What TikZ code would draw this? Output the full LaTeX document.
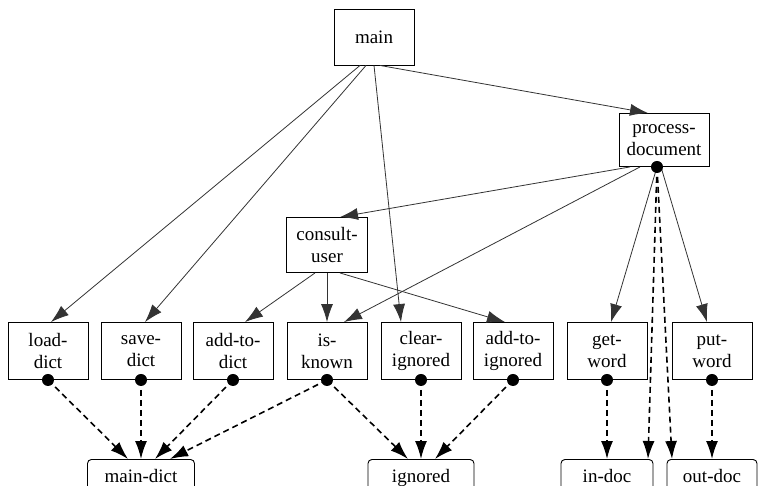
\documentclass[tikz,border=0pt]{standalone}
\usepackage{fontspec}
\setmainfont{Liberation Serif}
\usetikzlibrary{arrows.meta,calc}
\begin{document}
\begin{tikzpicture}[x=1pt,y=-1pt,
  box/.style={draw,line width=0.9pt,minimum width=80pt,minimum height=56pt,align=center,inner sep=1pt,font=\fontsize{19}{22}\selectfont},
  store/.style={draw,line width=0.9pt,rounded corners=4pt,minimum height=32pt,anchor=north,inner sep=2pt,text depth=0pt,font=\fontsize{19}{22}\selectfont},
  call/.style={draw=black!80,line width=0.8pt,-{Latex[length=18pt,width=12pt]}},
  use/.style={draw=black,line width=1.6pt,dash pattern=on 6pt off 4pt,-{Latex[length=18pt,width=12pt]}},
  dot/.style={fill=black}]
\useasboundingbox (0,0) rectangle (758,485);
\node[box] (main) at (374,37) {main};
\node[box,minimum width=90pt,minimum height=53pt] (pd) at (664,140) {process-\\document};
\node[box,minimum width=81pt,minimum height=55pt] (cu) at (327,245) {consult-\\user};
\node[box,minimum height=57pt] (ld) at (48,351) {load-\\dict};
\node[box,minimum height=57pt] (sd) at (141,351) {save-\\dict};
\node[box,minimum height=57pt] (ad) at (233,351) {add-to-\\dict};
\node[box,minimum height=57pt] (ik) at (327,351) {is-\\known};
\node[box,minimum height=57pt] (ci) at (421,351) {clear-\\ignored};
\node[box,minimum height=57pt] (ai) at (513,351) {add-to-\\ignored};
\node[box,minimum height=57pt] (gw) at (607,351) {get-\\word};
\node[box,minimum height=57pt] (pw) at (712,351) {put-\\word};
\node[store,minimum width=107pt] (md) at (141,459) {main-dict};
\node[store,minimum width=106pt] (ig) at (421,459) {ignored};
\node[store,minimum width=92pt] (id) at (607,459) {in-doc};
\node[store,minimum width=90pt] (od) at (712,459) {out-doc};
% calls
\draw[call] ($(main.south)+(-14,0)$) -- ($(ld.north)+(3,0)$);
\draw[call] ($(main.south)+(-8,0)$) -- ($(sd.north)+(4,0)$);
\draw[call] (main.south) -- ($(ci.north)+(-20,0)$);
\draw[call] ($(main.south)+(6,0)$) -- ($(pd.north)+(-16,0)$);
\draw[call] ($(pd.south)+(-34,0)$) -- ($(cu.north)+(13,0)$);
\draw[call] ($(pd.south)+(-24,0)$) -- ($(ik.north)+(17,0)$);
\draw[call] ($(pd.south)+(-7,0)$) -- ($(gw.north)+(4,0)$);
\draw[call] ($(pd.south)+(-3,0)$) -- ($(pw.north)+(-5,0)$);
\draw[call] ($(cu.south)+(-12,0)$) -- ($(ad.north)+(12,0)$);
\draw[call] (cu.south) -- (ik.north);
\draw[call] ($(cu.south)+(13,0)$) -- ($(ai.north)+(-8,0)$);
% dots
\coordinate (dpd) at ($(pd.south)+(-7,0)$);
\coordinate (dld) at (ld.south);
\coordinate (dsd) at (sd.south);
\coordinate (dad) at (ad.south);
\coordinate (dik) at (ik.south);
\coordinate (dci) at (ci.south);
\coordinate (dai) at (ai.south);
\coordinate (dgw) at (gw.south);
\coordinate (dpw) at (pw.south);
\foreach \d in {dpd,dld,dsd,dad,dik,dci,dai,dgw,dpw}{\fill[dot] (\d) circle (6pt);}
% uses
\draw[use] (dld) -- ($(md.north)+(-13,0)$);
\draw[use] (dsd) -- (md.north);
\draw[use] (dad) -- ($(md.north)+(14,0)$);
\draw[use] (dik) -- ($(md.north)+(29,0)$);
\draw[use] (dik) -- ($(ig.north)+(-13,0)$);
\draw[use] (dci) -- (ig.north);
\draw[use] (dai) -- ($(ig.north)+(14,0)$);
\draw[use] (dgw) -- (id.north);
\draw[use] (dpd) -- ($(id.north)+(41,0)$);
\draw[use] (dpd) -- ($(od.north)+(-40,0)$);
\draw[use] (dpw) -- (od.north);
\end{tikzpicture}
\end{document}
